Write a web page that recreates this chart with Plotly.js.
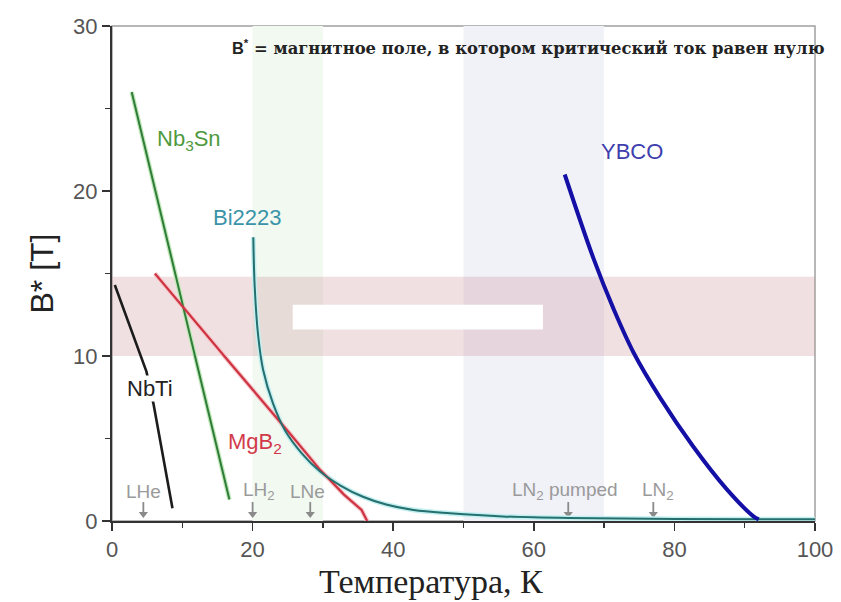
<!DOCTYPE html>
<html>
<head>
<meta charset="utf-8">
<script src="https://cdn.plot.ly/plotly-3.0.1.min.js"></script>
<style>html,body{margin:0;padding:0;background:#fff;}#chart{width:841px;height:602px;}</style>
</head>
<body>
<div id="chart"></div>
<script>
// ---- data ----
const nbtiT   = [0.4, 4.9, 5.9, 8.6];
const nbtiB   = [14.3, 9.05, 7.1, 0.77];

const nb3snT  = [2.8, 16.7];
const nb3snB  = [26.0, 1.3];

const mgb2T   = [6.1, 10.4, 16.8, 25.3, 29.6, 33.0, 35.5, 36.3];
const mgb2B   = [15.0, 12.8, 9.58, 5.3, 3.1, 1.6, 0.67, 0.0];

const bi2223T = [20.1, 20.3, 20.8, 21.5, 22.9, 24.6, 27.0, 29.6, 32.5, 35.7, 39.0, 42.9, 48.1, 55.6, 65.0, 80.0, 100.0];
const bi2223B = [17.2, 14.2, 11.2, 9.15, 7.13, 5.5, 4.1, 3.0, 2.15, 1.47, 1.0, 0.67, 0.47, 0.28, 0.18, 0.12, 0.1];

const ybcoT   = [64.4, 68.5, 71.3, 74.2, 78.0, 82.7, 87.4, 91.2, 92.0];
const ybcoB   = [21.0, 15.9, 12.9, 10.2, 7.45, 4.5, 1.95, 0.3, 0.1];

// cryogen markers (temperature, label)
const cryoT      = [4.46, 20.0, 28.2, 64.9, 77.0];
const cryoLabelT = [4.55, 20.9, 27.8, 64.4, 77.7];
const cryoLabels = ['LHe', 'LH<sub>2</sub>', 'LNe', 'LN<sub>2</sub> pumped', 'LN<sub>2</sub>'];
const arrowTail = 1.15, arrowHead = 0.42;

// shaded regions
const fieldBand   = [10, 14.8];
const greenBandT  = [20, 30];
const blueBandT   = [50, 70];
const whiteBoxT   = [25.7, 61.3];
const whiteBoxB   = [11.6, 13.1];

const xTicks = [0, 20, 40, 60, 80, 100];
const yTicks = [0, 10, 20, 30];

// ---- traces ----
function line(x, y, color, width, smooth) {
  const ln = {color: color, width: width};
  if (smooth) { ln.shape = 'spline'; ln.smoothing = 1; }
  return {x: x, y: y, type: 'scatter', mode: 'lines', line: ln, hoverinfo: 'skip', showlegend: false};
}
const stemX = [], stemY = [];
cryoT.forEach(t => { stemX.push(t, t, null); stemY.push(arrowTail, arrowHead, null); });

const traces = [
  {x: stemX, y: stemY, type: 'scatter', mode: 'lines', line: {color: '#8a8a8a', width: 1.8}, hoverinfo: 'skip', showlegend: false, cliponaxis: false},
  {x: cryoT, y: cryoT.map(() => arrowHead), type: 'scatter', mode: 'markers', marker: {symbol: 'triangle-down', size: 8, color: '#8a8a8a'}, hoverinfo: 'skip', showlegend: false, cliponaxis: false},
  line(nb3snT, nb3snB, '#c2e8b8', 4.5, false),
  line(bi2223T, bi2223B, '#c4f0f2', 5, true),
  line(mgb2T, mgb2B, '#f5c8cc', 4.5, false),
  line(nbtiT, nbtiB, '#1c1c1c', 2.6, false),
  line(nb3snT, nb3snB, '#2f7d3a', 2, false),
  line(mgb2T, mgb2B, '#cf3442', 2.2, false),
  line(bi2223T, bi2223B, '#25706e', 2, true),
  line(ybcoT, ybcoB, '#1410a6', 4, true)
];

const sans = 'Liberation Sans, Arial, sans-serif';
const serif = 'Liberation Serif, Times New Roman, serif';

const annotations = [
  {x: 0.168, y: 28.7, xref: 'paper', yref: 'y', xanchor: 'left', yanchor: 'middle', showarrow: false,
   text: '<span style="font-family:Liberation Sans">B<sup>*</sup></span> = магнитное поле, в котором критический ток равен нулю',
   font: {family: 'DejaVu Serif, serif', size: 16.4, color: '#222', weight: 'bold'}},
  {x: 0.454, y: -0.164, xref: 'paper', yref: 'paper', xanchor: 'center', yanchor: 'bottom', showarrow: false,
   text: 'Температура, К', font: {family: serif, size: 34, color: '#222'}},
  {x: 10.9, y: 23.1, text: 'Nb<sub>3</sub>Sn', showarrow: false, font: {family: sans, size: 22, color: '#4f9a3e'}},
  {x: 19.3, y: 18.4, text: 'Bi2223', showarrow: false, font: {family: sans, size: 22, color: '#3b93a8'}},
  {x: 73.9, y: 22.4, text: 'YBCO', showarrow: false, font: {family: sans, size: 22, color: '#3e3eae'}},
  {x: 5.4, y: 8.05, text: 'NbTi', showarrow: false, bgcolor: '#ffffff', borderpad: 0, font: {family: sans, size: 22, color: '#222'}},
  {x: 20.3, y: 4.75, text: 'MgB<sub>2</sub>', showarrow: false, font: {family: sans, size: 22, color: '#d23a4a'}}
];
for (let i = 0; i < cryoT.length; i++) {
  annotations.push({x: cryoLabelT[i], y: 1.8, text: cryoLabels[i], showarrow: false,
    font: {family: sans, size: 19, color: '#9a9a9a'}});
}

const shapes = [
  {type: 'rect', xref: 'x', yref: 'y', x0: greenBandT[0], x1: greenBandT[1], y0: 0, y1: 30, fillcolor: '#f1f9f1', line: {width: 0}, layer: 'below'},
  {type: 'rect', xref: 'x', yref: 'y', x0: blueBandT[0], x1: blueBandT[1], y0: 0, y1: 30, fillcolor: '#f1f1f8', line: {width: 0}, layer: 'below'},
  {type: 'rect', xref: 'x', yref: 'y', x0: 0, x1: 100, y0: fieldBand[0], y1: fieldBand[1], fillcolor: 'rgba(200,130,135,0.25)', line: {width: 0}, layer: 'below'},
  {type: 'rect', xref: 'x', yref: 'y', x0: whiteBoxT[0], x1: whiteBoxT[1], y0: whiteBoxB[0], y1: whiteBoxB[1], fillcolor: '#ffffff', line: {width: 0}, layer: 'below'},
  {type: 'rect', xref: 'paper', yref: 'paper', x0: 0, x1: 1, y0: 0, y1: 1, line: {color: '#a0a0a0', width: 1.5}, layer: 'below'}
];

const layout = {
  width: 841, height: 602,
  margin: {l: 112, r: 26, t: 26, b: 81},
  paper_bgcolor: '#ffffff', plot_bgcolor: '#ffffff',
  showlegend: false,
  xaxis: {
    range: [0, 100], tickvals: xTicks, ticktext: xTicks.map(String),
    ticks: 'outside', ticklen: 8, tickwidth: 1.5, tickcolor: '#333',
    minor: {dtick: 10, ticks: 'outside', ticklen: 5, tickwidth: 1.5, tickcolor: '#333', showgrid: false},
    showline: true, linecolor: '#333', linewidth: 2, showgrid: false, zeroline: false,
    tickfont: {family: sans, size: 22, color: '#555'}
  },
  yaxis: {
    range: [0, 30], tickvals: yTicks, ticktext: yTicks.map(String),
    ticks: 'outside', ticklen: 8, tickwidth: 1.5, tickcolor: '#333',
    minor: {dtick: 5, ticks: 'outside', ticklen: 5, tickwidth: 1.5, tickcolor: '#333', showgrid: false},
    showline: true, linecolor: '#333', linewidth: 2, showgrid: false, zeroline: false,
    tickfont: {family: sans, size: 22, color: '#555'},
    title: {text: 'B* [T]', font: {family: sans, size: 32, color: '#222'}, standoff: 10}
  },
  shapes: shapes,
  annotations: annotations
};

Plotly.newPlot('chart', traces, layout, {displayModeBar: false, staticPlot: true});
</script>
</body>
</html>
